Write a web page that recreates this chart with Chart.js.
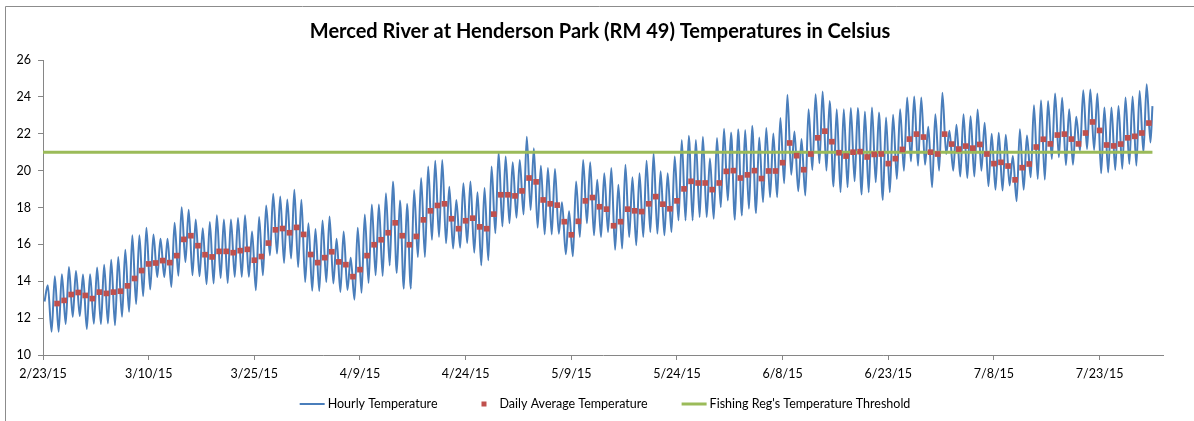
<!DOCTYPE html>
<html>
<head>
<meta charset="utf-8">
<script src="https://cdn.jsdelivr.net/npm/chart.js@4.4.1/dist/chart.umd.min.js"></script>
<style>
  html, body { margin: 0; padding: 0; background: #fff; }
  #wrap { width: 1194px; height: 421px; position: relative; }
</style>
</head>
<body>
<div id="wrap"><canvas id="chart"></canvas></div>
<script>
const TITLE = 'Merced River at Henderson Park (RM 49) Temperatures in Celsius';
const SERIES_NAMES = ['Hourly Temperature', 'Daily Average Temperature', "Fishing Reg's Temperature Threshold"];

// x values are days counted from 2/23/15
const tickDays = [0, 15, 30, 45, 60, 75, 90, 105, 120, 135, 150];
const yTicks = [10, 12, 14, 16, 18, 20, 22, 24, 26];

const dailyLow = [
    12.9, 11.26, 11.26, 11.68, 12.07, 12.11, 11.41, 11.7, 11.68, 11.71,
    11.62, 12.07, 12.34, 12.76, 13.19, 13.55, 14.23, 14.23, 13.69, 14.3,
    15.04, 14.32, 14.27, 13.84, 13.88, 14.18, 13.91, 14.24, 14.24, 14.24,
    13.51, 14.32, 15.41, 15.5, 14.99, 15.23, 14.77, 13.96, 13.49, 13.47,
    13.96, 13.88, 13.42, 13.53, 13.0, 13.37, 13.91, 14.32, 14.29, 14.86,
    14.45, 13.6, 13.6, 15.31, 15.31, 16.25, 16.4, 16.06, 15.77, 15.82,
    16.07, 15.55, 14.86, 15.14, 16.61, 16.97, 17.15, 17.44, 17.62, 17.87,
    16.9, 16.54, 16.54, 16.58, 15.46, 15.35, 16.4, 17.15, 16.49, 16.4,
    16.67, 15.71, 15.77, 16.4, 15.95, 16.4, 16.67, 16.58, 16.49, 16.67,
    17.3, 17.3, 17.3, 17.48, 17.48, 17.39, 18.02, 18.38, 17.33, 17.57,
    17.93, 17.69, 18.29, 18.56, 18.56, 19.31, 19.78, 18.88, 18.65, 20.04,
    20.4, 20.0, 19.14, 18.83, 19.1, 19.42, 18.7, 18.83, 19.37, 18.41,
    18.83, 19.55, 20.0, 20.5, 20.27, 20.32, 19.1, 20.0, 20.9, 20.0,
    19.68, 19.6, 19.68, 20.0, 19.15, 18.96, 18.92, 19.2, 18.34, 18.96,
    19.64, 19.55, 19.51, 20.63, 20.72, 20.3, 20.32, 21.08, 21.17, 21.12,
    19.86, 19.9, 20.04, 20.1, 20.36, 20.27, 20.99, 21.53
];
const dailyHigh = [
    13.78, 14.27, 14.38, 14.77, 14.56, 14.36, 14.38, 14.74, 14.9, 15.17,
    15.31, 15.71, 16.49, 16.49, 16.9, 16.54, 16.31, 16.31, 17.17, 18.02,
    17.88, 17.35, 16.88, 17.21, 17.58, 17.35, 17.35, 17.43, 17.58, 16.7,
    17.49, 18.11, 18.74, 18.59, 18.43, 18.96, 18.42, 17.15, 16.83, 17.3,
    17.51, 16.31, 16.7, 15.28, 16.9, 17.62, 18.16, 18.16, 18.77, 19.41,
    18.38, 18.2, 18.95, 19.6, 20.22, 20.54, 20.57, 19.12, 18.41, 19.31,
    19.41, 18.83, 19.06, 20.22, 20.99, 20.76, 20.45, 20.57, 21.84, 21.21,
    20.27, 20.14, 20.09, 18.29, 17.8, 19.41, 20.57, 20.45, 19.5, 19.86,
    20.14, 19.24, 20.32, 19.64, 19.86, 20.54, 20.94, 19.96, 19.86, 20.76,
    21.66, 21.89, 21.66, 21.84, 20.66, 21.77, 22.27, 22.07, 22.25, 22.2,
    22.43, 21.8, 22.31, 22.02, 22.85, 24.11, 22.12, 21.71, 23.33, 24.14,
    24.29, 23.78, 23.33, 23.33, 23.39, 23.4, 23.21, 23.42, 23.15, 22.88,
    23.03, 23.33, 23.96, 24.02, 23.96, 22.38, 23.06, 24.22, 22.16, 22.49,
    23.06, 22.95, 23.31, 22.59, 22.0, 22.05, 21.95, 20.8, 22.25, 21.9,
    23.55, 23.82, 23.77, 24.18, 23.95, 23.33, 22.92, 24.36, 24.4, 24.18,
    23.42, 23.42, 23.51, 23.96, 24.02, 24.32, 24.68, 23.5
];

// Daily averages, one per day starting on day 2 (2/25/15)
const avgFirstDay = 2;
const dailyAvg = [
    12.79, 12.96, 13.28, 13.39, 13.23, 13.06, 13.41, 13.34, 13.41, 13.46,
    13.75, 14.15, 14.58, 14.94, 14.99, 15.12, 15.01, 15.39, 16.27, 16.47,
    15.93, 15.44, 15.32, 15.62, 15.62, 15.55, 15.66, 15.73, 15.14, 15.34,
    16.07, 16.79, 16.86, 16.63, 16.92, 16.54, 15.45, 15.01, 15.28, 15.6,
    15.05, 14.9, 14.25, 14.63, 15.39, 15.98, 16.25, 16.63, 17.17, 16.47,
    15.98, 16.43, 17.33, 17.82, 18.11, 18.2, 17.39, 16.85, 17.28, 17.42,
    16.95, 16.85, 17.64, 18.69, 18.69, 18.63, 18.9, 19.6, 19.39, 18.41,
    18.2, 18.13, 17.23, 16.52, 17.25, 18.36, 18.54, 18.04, 17.91, 17.01,
    17.23, 17.91, 17.82, 17.78, 18.2, 18.59, 18.18, 17.93, 18.36, 19.01,
    19.42, 19.33, 19.33, 18.97, 19.33, 19.96, 20.0, 19.6, 19.77, 20.0,
    19.57, 19.98, 19.98, 20.43, 21.5, 20.81, 20.05, 20.9, 21.78, 22.14,
    21.57, 20.97, 20.79, 21.0, 21.03, 20.74, 20.88, 20.9, 20.38, 20.65,
    21.15, 21.71, 21.98, 21.82, 21.0, 20.9, 21.98, 21.44, 21.17, 21.33,
    21.22, 21.42, 20.9, 20.38, 20.45, 20.25, 19.5, 20.16, 20.36, 21.28,
    21.7, 21.45, 21.93, 21.98, 21.71, 21.45, 22.04, 22.64, 22.18, 21.39,
    21.34, 21.44, 21.78, 21.86, 22.04, 22.58
];

const threshold = 21;
const lastDay = 157.5;
const axisMaxDay = 159;

const FONT = 'Lato, "Open Sans", sans-serif';
const AXIS_COLOR = '#868686';
const BLUE = '#4A7EBB';
const RED = '#C0504D';
const GREEN = '#9BBB59';

// Build the hourly trace: low around sunrise, high late afternoon
const hourlyPoints = [];
dailyLow.forEach((low, d) => {
    hourlyPoints.push({x: d + 0.22, y: low});
    hourlyPoints.push({x: Math.min(d + 0.68, lastDay), y: dailyHigh[d]});
});

const avgPoints = dailyAvg.map((v, i) => ({x: avgFirstDay + i, y: v}));
const thresholdPoints = [{x: 0, y: threshold}, {x: lastDay, y: threshold}];

function dayLabel(d) {
    const dt = new Date(2015, 1, 23 + d);
    return (dt.getMonth() + 1) + '/' + dt.getDate() + '/15';
}

// Frame lines of the original chart box (only top and left edge are inside the picture)
const framePlugin = {
    id: 'frame',
    afterLayout(chart) {
        // centre the title on the whole frame, not only on the padded area
        chart.titleBlock.left = 6;
        chart.titleBlock.right = chart.width;
    },
    beforeDraw(chart) {
        const ctx = chart.ctx;
        ctx.save();
        ctx.fillStyle = '#fff';
        ctx.fillRect(0, 0, chart.width, chart.height);
        ctx.strokeStyle = '#8c8c8c';
        ctx.lineWidth = 1;
        ctx.beginPath();
        ctx.moveTo(5.5, chart.height);
        ctx.lineTo(5.5, 6.5);
        ctx.lineTo(chart.width, 6.5);
        ctx.stroke();
        ctx.restore();
    }
};

// Legend drawn below the axis, Excel style
const legendPlugin = {
    id: 'bottomLegend',
    afterDraw(chart) {
        const ctx = chart.ctx;
        ctx.save();
        ctx.font = '12.5px ' + FONT;
        ctx.textBaseline = 'middle';
        ctx.fillStyle = '#000';
        const y = 404;
        const sym = 25, gap = 3, between = 34;
        const widths = SERIES_NAMES.map(n => ctx.measureText(n).width);
        const total = widths.reduce((a, b) => a + b, 0) + 3 * (sym + gap) + 2 * between;
        let x = 605 - total / 2;
        SERIES_NAMES.forEach((name, i) => {
            const ds = chart.data.datasets[i];
            if (ds.showLine === false) {
                ctx.fillStyle = ds.pointBackgroundColor;
                ctx.fillRect(x + sym / 2 - 2.5, y - 2.5, 5, 5);
            } else {
                ctx.strokeStyle = ds.borderColor;
                ctx.lineWidth = ds.borderWidth;
                ctx.beginPath();
                ctx.moveTo(x, y);
                ctx.lineTo(x + sym, y);
                ctx.stroke();
            }
            ctx.fillStyle = '#000';
            ctx.fillText(name, x + sym + gap, y);
            x += sym + gap + widths[i] + between;
        });
        ctx.restore();
    }
};

new Chart(document.getElementById('chart'), {
    type: 'line',
    data: {
        datasets: [{
            label: SERIES_NAMES[0],
            data: hourlyPoints,
            borderColor: BLUE,
            borderWidth: 2,
            pointRadius: 0,
            cubicInterpolationMode: 'monotone',
            order: 3
        }, {
            label: SERIES_NAMES[1],
            data: avgPoints,
            showLine: false,
            pointStyle: 'rect',
            pointRadius: 4,
            pointBorderWidth: 0,
            pointBackgroundColor: RED,
            pointBorderColor: RED,
            order: 1
        }, {
            label: SERIES_NAMES[2],
            data: thresholdPoints,
            borderColor: GREEN,
            borderWidth: 3,
            pointRadius: 0,
            order: 2
        }]
    },
    options: {
        responsive: true,
        maintainAspectRatio: false,
        devicePixelRatio: 1,
        animation: false,
        layout: { padding: { left: 0, right: 31, top: 0, bottom: 0 } },
        plugins: {
            legend: { display: false },
            tooltip: { enabled: false },
            title: {
                display: true,
                text: TITLE,
                color: '#000',
                font: { family: FONT, size: 20, weight: 'bold', lineHeight: 1.2 },
                padding: { top: 20, bottom: 16 }
            }
        },
        scales: {
            x: {
                type: 'linear',
                min: 0,
                max: axisMaxDay,
                afterBuildTicks: scale => { scale.ticks = tickDays.map(v => ({value: v})); },
                afterFit: scale => { scale.height = 66; },
                grid: { drawOnChartArea: false, drawTicks: true, tickLength: 5, color: AXIS_COLOR },
                border: { color: AXIS_COLOR },
                ticks: {
                    callback: v => dayLabel(v),
                    color: '#000',
                    font: { family: FONT, size: 12.5 },
                    padding: 6,
                    maxRotation: 0,
                    autoSkip: false
                }
            },
            y: {
                min: yTicks[0],
                max: yTicks[yTicks.length - 1],
                afterBuildTicks: scale => { scale.ticks = yTicks.map(v => ({value: v})); },
                afterFit: scale => { scale.width = 43; },
                grid: { drawOnChartArea: false, drawTicks: true, tickLength: 5, color: AXIS_COLOR },
                border: { color: AXIS_COLOR },
                ticks: {
                    color: '#000',
                    font: { family: FONT, size: 12.5 },
                    padding: 7
                }
            }
        }
    },
    plugins: [framePlugin, legendPlugin]
});
</script>
</body>
</html>
